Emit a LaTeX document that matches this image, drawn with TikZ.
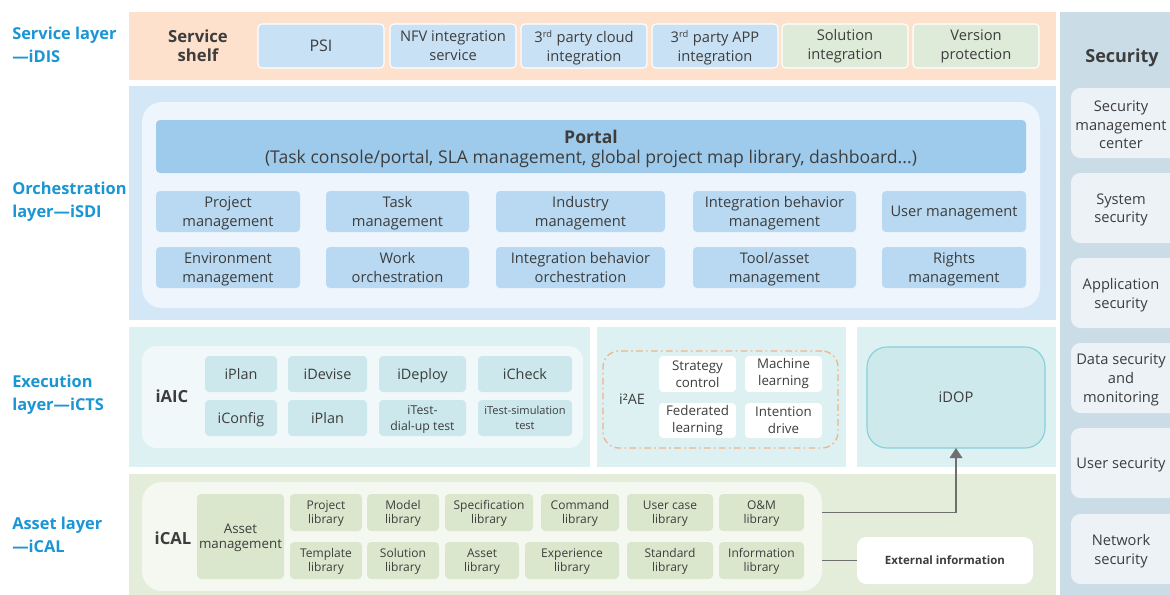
\documentclass[tikz,border=0pt]{standalone}
\usepackage{fontspec}
\setmainfont{Open Sans}
\usetikzlibrary{arrows.meta}

\definecolor{ink}{HTML}{3D3D3D}
\definecolor{lyrblue}{HTML}{1A96D4}
\definecolor{cPeach}{HTML}{FDE1CD}
\definecolor{cShelfBlue}{HTML}{C9E1F4}
\definecolor{cShelfGreen}{HTML}{DEEBD8}
\definecolor{cOrchBg}{HTML}{D4E7F6}
\definecolor{cOrchIn}{HTML}{EEF5FC}
\definecolor{cPortal}{HTML}{9ECBEC}
\definecolor{cOrchCell}{HTML}{B8D9F1}
\definecolor{cSecBg}{HTML}{CADCE6}
\definecolor{cSecBox}{HTML}{EDF2F6}
\definecolor{cExecBg}{HTML}{DDF0F2}
\definecolor{cExecIn}{HTML}{F1F8F9}
\definecolor{cExecCell}{HTML}{CCE8EC}
\definecolor{cDash}{HTML}{F4B489}
\definecolor{cDopFill}{HTML}{CEE9EC}
\definecolor{cDopLine}{HTML}{82D0D8}
\definecolor{cAssetBg}{HTML}{E3EDD9}
\definecolor{cAssetIn}{HTML}{F5F8F1}
\definecolor{cAssetCell}{HTML}{DAE7CD}
\definecolor{cLine}{HTML}{6F6F6F}

\newcommand\sups[1]{\textsuperscript{\fontsize{7}{7}\selectfont #1}}

\tikzset{
  % a box given by its corners (x1,y1) and (x2,y2), in drawing units
  span/.style n args={4}{
    at={({(#1+#3)/2},{(#2+#4)/2})}, anchor=center,
    minimum width={(#3-#1)*0.75pt}, minimum height={(#4-#2)*0.75pt}},
  base/.style={inner sep=0pt, outer sep=0pt, text=ink},
  band/.style={base, fill=#1, draw=none},
  panel/.style={base, fill=#1, rounded corners=15pt},
  lyr/.style={text=lyrblue, font=\bfseries\fontsize{12.3}{17.5}\selectfont, align=left, anchor=west, inner sep=0pt},
  cell/.style={base, fill=#1, rounded corners=3pt, align=center},
  shelfcell/.style={cell=#1, draw=white, line width=0.8pt, font=\fontsize{11}{14.25}\selectfont},
  orchcell/.style={cell=cOrchCell, text depth=0pt, font=\fontsize{11}{14.25}\selectfont},
  execcell/.style={cell=cExecCell, text height=7.7pt, text depth=0pt, font=\fontsize{10.8}{12}\selectfont},
  aecell/.style={cell=white, font=\fontsize{10}{12.75}\selectfont},
  assetcell/.style={cell=cAssetCell, text height=16.9pt, text depth=0pt, font=\fontsize{9}{10.5}\selectfont},
  title/.style={base, font=\bfseries\fontsize{12.5}{14.25}\selectfont, align=center},
  sectext/.style={base, font=\fontsize{11}{14}\selectfont, align=center},
  conn/.style={draw=cLine, line width=1pt},
}

\begin{document}
\begin{tikzpicture}[x=0.75pt, y=-0.75pt]
\useasboundingbox (0,0) rectangle (1170,594);
\clip (0,0) rectangle (1170,594);
\fill[white] (0,0) rectangle (1170,594);

% ---------- layer captions ----------
\node[lyr] (lsvc)  at (12,45)  {Service layer\\—iDIS};
\node[lyr] (lorch) at (12,202) {Orchestration\\layer—iSDI};
\node[lyr] (lexec) at (12,395) {Execution\\layer—iCTS};
\node[lyr] (lasset) at (12,535) {Asset layer\\—iCAL};

% ---------- service layer ----------
\node[band=cPeach, span={129}{12}{1056}{80}] (svcband) {};
\node[title] (shelf) at (198,46) {Service\\shelf};
\node[shelfcell=cShelfBlue, span={258}{24}{384}{68}, font=\fontsize{12}{14.25}\selectfont] (psi) {PSI};
\node[shelfcell=cShelfBlue, span={390}{24}{516}{68}] (nfv) {NFV integration\\service};
\node[shelfcell=cShelfBlue, span={521}{24}{647}{68}, text depth=0pt] (cloud) {3\sups{rd} party cloud\\integration};
\node[shelfcell=cShelfBlue, span={652}{24}{778}{68}, text depth=0pt] (app) {3\sups{rd} party APP\\integration};
\node[shelfcell=cShelfGreen, span={782}{24}{908}{68}] (solint) {Solution\\integration};
\node[shelfcell=cShelfGreen, span={913}{24}{1039}{68}] (verprot) {Version\\protection};

% ---------- orchestration layer ----------
\node[band=cOrchBg, span={129}{86}{1056}{320}] (orchband) {};
\node[panel=cOrchIn, span={142}{102}{1040}{308}] (orchin) {};
\node[cell=cPortal, span={156}{120}{1026}{173}, text depth=0pt, font=\fontsize{13.2}{15}\selectfont] (portal)
  {\textbf{Portal}\\(Task console/portal, SLA management, global project map library, dashboard...)};
\node[orchcell, span={156}{191}{300}{232}] (projm) {Project\\management};
\node[orchcell, span={326}{191}{469}{232}] (taskm) {Task\\management};
\node[orchcell, span={496}{191}{665}{232}] (indm) {Industry\\management};
\node[orchcell, span={693}{191}{856}{232}] (ibm) {Integration behavior\\management};
\node[orchcell, span={882}{191}{1026}{232}] (userm) {User management};
\node[orchcell, span={156}{247}{300}{288}] (envm) {Environment\\management};
\node[orchcell, span={326}{247}{469}{288}] (worko) {Work\\orchestration};
\node[orchcell, span={496}{247}{665}{288}] (ibo) {Integration behavior\\orchestration};
\node[orchcell, span={693}{247}{856}{288}] (toolm) {Tool/asset\\management};
\node[orchcell, span={882}{247}{1026}{288}] (rightsm) {Rights\\management};

% ---------- security column ----------
\node[band=cSecBg, span={1060}{12}{1175}{600}] (secband) {};
\node[base, font=\bfseries\fontsize{13.5}{16}\selectfont] (sechead) at (1122,58) {Security};
\foreach \y in {88,173,258,343,428,514}
  \fill[cSecBox, rounded corners=7pt] (1071,\y) rectangle (1195,\y+70);
\node[sectext] (secmc)  at (1121,125) {Security\\management\\center};
\node[sectext] (secsys) at (1121,210) {System\\security};
\node[sectext] (secapp) at (1121,295) {Application\\security};
\node[sectext] (secdat) at (1121,380) {Data security\\and\\monitoring};
\node[sectext] (secusr) at (1121,465) {User security};
\node[sectext] (secnet) at (1121,551) {Network\\security};

% ---------- execution layer ----------
\node[band=cExecBg, span={129}{327}{590}{467}] (aicpanel) {};
\node[panel=cExecIn, span={142}{346}{583}{448}, rounded corners=11pt] (aicin) {};
\node[title, font=\bfseries\fontsize{12.5}{14}\selectfont] (aic) at (172,396) {iAIC};
\node[execcell, span={205}{356}{277}{392}] (iplan) {iPlan};
\node[execcell, span={288}{356}{367}{392}] (idevise) {iDevise};
\node[execcell, span={379}{356}{466}{392}] (ideploy) {iDeploy};
\node[execcell, span={478}{356}{572}{392}] (icheck) {iCheck};
\node[execcell, span={205}{400}{277}{436}] (iconfig) {iConfig};
\node[execcell, span={288}{400}{367}{436}] (iplanb) {iPlan};
\node[execcell, span={379}{400}{466}{436}, text height=18.6pt, font=\fontsize{9.2}{12}\selectfont] (idial) {iTest-\\dial-up test};
\node[execcell, span={478}{400}{572}{436}, text height=17pt, font=\fontsize{8.3}{11}\selectfont] (isim) {iTest-simulation\\test};

\node[band=cExecBg, span={597}{327}{846}{467}] (aepanel) {};
\node[base, span={603}{351}{838}{448}, draw=cDash, line width=1pt, rounded corners=12pt,
      dash pattern=on 5pt off 2.5pt on 1.2pt off 2.5pt] (aebox) {};
\node[base, font=\fontsize{10.8}{12}\selectfont] (ae) at (632,399) {i²AE};
\node[aecell, span={659}{356}{736}{392}] (strat) {Strategy\\control};
\node[aecell, span={745}{356}{822}{392}] (mlearn) {Machine\\learning};
\node[aecell, span={659}{403}{736}{438}] (fedl) {Federated\\learning};
\node[aecell, span={745}{403}{822}{438}] (intd) {Intention\\drive};

\node[band=cExecBg, span={857}{327}{1056}{467}] (doppanel) {};
\node[base, span={867}{347}{1045}{448}, fill=cDopFill, draw=cDopLine, line width=0.8pt,
      rounded corners=15pt, font=\fontsize{11}{13}\selectfont] (idop) {iDOP};

% ---------- asset layer ----------
\node[band=cAssetBg, span={129}{474}{1056}{600}] (assetband) {};
\node[panel=cAssetIn, span={142}{482}{822}{591}] (icalin) {};
\node[title, font=\bfseries\fontsize{12.5}{14}\selectfont] (ical) at (173,538) {iCAL};
\node[assetcell, span={197}{494}{284}{579}, text height=18.1pt, font=\fontsize{10}{11}\selectfont] (assetm) {Asset\\management};
\node[assetcell, span={290}{494}{362}{531}] (projlib) {Project\\library};
\node[assetcell, span={367}{494}{439}{531}] (modlib) {Model\\library};
\node[assetcell, span={445}{494}{533}{531}] (speclib) {Specification\\library};
\node[assetcell, span={541}{494}{619}{531}] (cmdlib) {Command\\library};
\node[assetcell, span={627}{494}{713}{531}] (uclib) {User case\\library};
\node[assetcell, span={719}{494}{804}{531}] (omlib) {O\&M\\library};
\node[assetcell, span={290}{542}{362}{579}] (tpllib) {Template\\library};
\node[assetcell, span={367}{542}{439}{579}] (sollib) {Solution\\library};
\node[assetcell, span={445}{542}{519}{579}] (astlib) {Asset\\library};
\node[assetcell, span={525}{542}{619}{579}] (explib) {Experience\\library};
\node[assetcell, span={627}{542}{713}{579}] (stdlib) {Standard\\library};
\node[assetcell, span={719}{542}{804}{579}] (inflib) {Information\\library};
\node[base, span={857}{537}{1033}{584}, fill=white, rounded corners=7pt,
      font=\bfseries\fontsize{8.6}{10}\selectfont] (ext) {External information};

% ---------- connectors ----------
\draw[conn] (icalin.east |- ext.west) -- (ext.west);
\draw[conn, -{Triangle[width=9.5pt,length=7.5pt]}] (icalin.east |- omlib.east) -| (idop.south);
\end{tikzpicture}
\end{document}
